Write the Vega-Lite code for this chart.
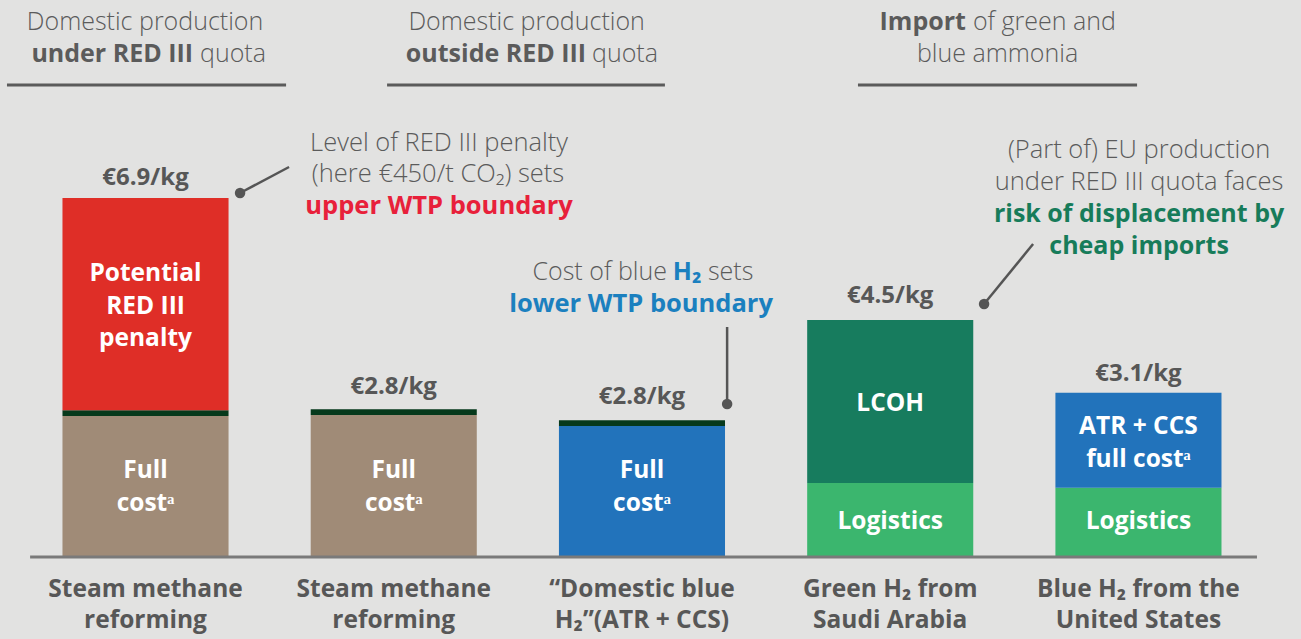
{
  "$schema": "https://vega.github.io/schema/vega-lite/v6.json",
  "width": 1301,
  "height": 639,
  "autosize": {"type": "fit", "contains": "padding"},
  "padding": 0,
  "background": "#e2e2e1",
  "config": {"view": {"stroke": null}, "text": {"font": "Open Sans"}},
  "resolve": {"scale": {"x": "independent", "color": "independent"}},
  "layer": [
    {
      "layer": [
        {
          "data": {"values": [
            {"bar": "SMR under quota", "part": "SMR full cost", "order": 1, "value": 2.67},
            {"bar": "SMR under quota", "part": "Residual CO₂ cost", "order": 2, "value": 0.11},
            {"bar": "SMR under quota", "part": "RED III penalty", "order": 3, "value": 4.02},
            {"bar": "SMR outside quota", "part": "SMR full cost", "order": 1, "value": 2.69},
            {"bar": "SMR outside quota", "part": "Residual CO₂ cost", "order": 2, "value": 0.11},
            {"bar": "Domestic blue H₂", "part": "ATR + CCS full cost", "order": 1, "value": 2.48},
            {"bar": "Domestic blue H₂", "part": "Residual CO₂ cost", "order": 2, "value": 0.11},
            {"bar": "Green H₂ Saudi Arabia", "part": "Logistics", "order": 1, "value": 1.40},
            {"bar": "Green H₂ Saudi Arabia", "part": "LCOH", "order": 2, "value": 3.09},
            {"bar": "Blue H₂ United States", "part": "Logistics", "order": 1, "value": 1.31},
            {"bar": "Blue H₂ United States", "part": "ATR + CCS full cost", "order": 2, "value": 1.80}
          ]},
          "mark": {"type": "bar"},
          "encoding": {
            "x": {"field": "bar", "type": "nominal", "axis": null,
              "scale": {"domain": ["SMR under quota", "SMR outside quota", "Domestic blue H₂", "Green H₂ Saudi Arabia", "Blue H₂ United States"], "paddingInner": 0.331, "paddingOuter": 0.286, "align": 0.44}},
            "y": {"field": "value", "type": "quantitative", "stack": "zero", "axis": null,
              "scale": {"domain": [-1.553, 10.549], "nice": false, "zero": false}},
            "color": {"field": "part", "type": "nominal", "legend": null,
              "scale": {"domain": ["SMR full cost", "Residual CO₂ cost", "RED III penalty", "ATR + CCS full cost", "Logistics", "LCOH"],
                "range": ["#a08b77", "#06391b", "#df2e27", "#2273bb", "#3bb66e", "#177c5e"]}},
            "order": {"field": "order", "type": "quantitative"}
          }
        },
        {
          "data": {"values": [
            {"bar": "SMR under quota", "y": 7.18, "text": "€6.9/kg"},
            {"bar": "SMR outside quota", "y": 3.22, "text": "€2.8/kg"},
            {"bar": "Domestic blue H₂", "y": 3.03, "text": "€2.8/kg"},
            {"bar": "Green H₂ Saudi Arabia", "y": 4.94, "text": "€4.5/kg"},
            {"bar": "Blue H₂ United States", "y": 3.47, "text": "€3.1/kg"}
          ]},
          "mark": {"type": "text", "fontSize": 24, "fontWeight": "bold", "color": "#575757", "align": "center", "baseline": "middle"},
          "encoding": {
            "x": {"field": "bar", "type": "nominal", "axis": null,
              "scale": {"domain": ["SMR under quota", "SMR outside quota", "Domestic blue H₂", "Green H₂ Saudi Arabia", "Blue H₂ United States"], "paddingInner": 0.331, "paddingOuter": 0.286, "align": 0.44}},
            "y": {"field": "y", "type": "quantitative", "axis": null,
              "scale": {"domain": [-1.553, 10.549], "nice": false, "zero": false}},
            "text": {"field": "text"}
          }
        },
        {
          "data": {"values": [
            {"bar": "SMR under quota", "y": -0.625, "text": "Steam methane"},
            {"bar": "SMR under quota", "y": -1.212, "text": "reforming"},
            {"bar": "SMR outside quota", "y": -0.625, "text": "Steam methane"},
            {"bar": "SMR outside quota", "y": -1.212, "text": "reforming"},
            {"bar": "Domestic blue H₂", "y": -0.625, "text": "“Domestic blue"},
            {"bar": "Domestic blue H₂", "y": -1.212, "text": "H₂”(ATR + CCS)"},
            {"bar": "Green H₂ Saudi Arabia", "y": -0.625, "text": "Green H₂ from"},
            {"bar": "Green H₂ Saudi Arabia", "y": -1.212, "text": "Saudi Arabia"},
            {"bar": "Blue H₂ United States", "y": -0.625, "text": "Blue H₂ from the"},
            {"bar": "Blue H₂ United States", "y": -1.212, "text": "United States"}
          ]},
          "mark": {"type": "text", "fontSize": 24.5, "fontWeight": "bold", "color": "#575757", "align": "center", "baseline": "middle"},
          "encoding": {
            "x": {"field": "bar", "type": "nominal", "axis": null,
              "scale": {"domain": ["SMR under quota", "SMR outside quota", "Domestic blue H₂", "Green H₂ Saudi Arabia", "Blue H₂ United States"], "paddingInner": 0.331, "paddingOuter": 0.286, "align": 0.44}},
            "y": {"field": "y", "type": "quantitative", "axis": null,
              "scale": {"domain": [-1.553, 10.549], "nice": false, "zero": false}},
            "text": {"field": "text"}
          }
        },
        {
          "data": {"values": [
            {"bar": "SMR under quota", "y": 5.36, "text": "Potential"},
            {"bar": "SMR under quota", "y": 4.73, "text": "RED III"},
            {"bar": "SMR under quota", "y": 4.13, "text": "penalty"},
            {"bar": "SMR under quota", "y": 1.63, "text": "Full"},
            {"bar": "SMR under quota", "y": 1.00, "text": "costᵃ"},
            {"bar": "SMR outside quota", "y": 1.63, "text": "Full"},
            {"bar": "SMR outside quota", "y": 1.00, "text": "costᵃ"},
            {"bar": "Domestic blue H₂", "y": 1.63, "text": "Full"},
            {"bar": "Domestic blue H₂", "y": 1.00, "text": "costᵃ"},
            {"bar": "Green H₂ Saudi Arabia", "y": 2.90, "text": "LCOH"},
            {"bar": "Green H₂ Saudi Arabia", "y": 0.66, "text": "Logistics"},
            {"bar": "Blue H₂ United States", "y": 2.46, "text": "ATR + CCS"},
            {"bar": "Blue H₂ United States", "y": 1.84, "text": "full costᵃ"},
            {"bar": "Blue H₂ United States", "y": 0.66, "text": "Logistics"}
          ]},
          "mark": {"type": "text", "fontSize": 24.5, "fontWeight": "bold", "color": "#ffffff", "align": "center", "baseline": "middle"},
          "encoding": {
            "x": {"field": "bar", "type": "nominal", "axis": null,
              "scale": {"domain": ["SMR under quota", "SMR outside quota", "Domestic blue H₂", "Green H₂ Saudi Arabia", "Blue H₂ United States"], "paddingInner": 0.331, "paddingOuter": 0.286, "align": 0.44}},
            "y": {"field": "y", "type": "quantitative", "axis": null,
              "scale": {"domain": [-1.553, 10.549], "nice": false, "zero": false}},
            "text": {"field": "text"}
          }
        }
      ]
    },
    {
      "layer": [
        {
          "data": {"values": [
            {"x": 0.448, "x2": 1.570, "y": 8.939},
            {"x": 1.976, "x2": 3.093, "y": 8.939},
            {"x": 3.869, "x2": 4.991, "y": 8.939}
          ]},
          "mark": {"type": "rule", "color": "#5b5b5b", "strokeWidth": 3},
          "encoding": {
            "x": {"field": "x", "type": "quantitative", "axis": null, "scale": {"domain": [0.42, 5.65], "nice": false, "zero": false}},
            "x2": {"field": "x2"},
            "y": {"field": "y", "type": "quantitative", "axis": null, "scale": {"domain": [-1.553, 10.549], "nice": false, "zero": false}}
          }
        },
        {
          "data": {"values": [{"x": 0.541, "x2": 5.473, "y": 0}]},
          "mark": {"type": "rule", "color": "#7a7a7a", "strokeWidth": 3},
          "encoding": {
            "x": {"field": "x", "type": "quantitative", "axis": null, "scale": {"domain": [0.42, 5.65], "nice": false, "zero": false}},
            "x2": {"field": "x2"},
            "y": {"field": "y", "type": "quantitative", "axis": null, "scale": {"domain": [-1.553, 10.549], "nice": false, "zero": false}}
          }
        },
        {
          "data": {"values": [
            {"x": 1.385, "y": 6.894, "x2": 1.582, "y2": 7.386},
            {"x": 3.343, "y": 2.898, "x2": 3.343, "y2": 4.356},
            {"x": 4.376, "y": 4.792, "x2": 4.573, "y2": 5.928}
          ]},
          "mark": {"type": "rule", "color": "#555555", "strokeWidth": 2.5},
          "encoding": {
            "x": {"field": "x", "type": "quantitative", "axis": null, "scale": {"domain": [0.42, 5.65], "nice": false, "zero": false}},
            "x2": {"field": "x2"},
            "y": {"field": "y", "type": "quantitative", "axis": null, "scale": {"domain": [-1.553, 10.549], "nice": false, "zero": false}},
            "y2": {"field": "y2"}
          }
        },
        {
          "data": {"values": [
            {"x": 1.385, "y": 6.894},
            {"x": 3.343, "y": 2.898},
            {"x": 4.376, "y": 4.792}
          ]},
          "mark": {"type": "point", "filled": true, "color": "#555555", "size": 110, "opacity": 1},
          "encoding": {
            "x": {"field": "x", "type": "quantitative", "axis": null, "scale": {"domain": [0.42, 5.65], "nice": false, "zero": false}},
            "y": {"field": "y", "type": "quantitative", "axis": null, "scale": {"domain": [-1.553, 10.549], "nice": false, "zero": false}}
          }
        },
        {
          "data": {"values": [
            {"x": 1.003, "y": 10.133, "text": "Domestic production"},
            {"x": 2.537, "y": 10.133, "text": "Domestic production"},
            {"x": 4.430, "y": 9.527, "text": "blue ammonia"}
          ]},
          "mark": {"type": "text", "fontSize": 25, "fontWeight": 300, "color": "#5b5b5b", "align": "center", "baseline": "middle"},
          "encoding": {
            "x": {"field": "x", "type": "quantitative", "axis": null, "scale": {"domain": [0.42, 5.65], "nice": false, "zero": false}},
            "y": {"field": "y", "type": "quantitative", "axis": null, "scale": {"domain": [-1.553, 10.549], "nice": false, "zero": false}},
            "text": {"field": "text"}
          }
        },
        {
          "data": {"values": [
            {"x": 1.196, "y": 9.527, "text": "under RED III"},
            {"x": 2.776, "y": 9.527, "text": "outside RED III"},
            {"x": 4.303, "y": 10.133, "text": "Import"}
          ]},
          "mark": {"type": "text", "fontSize": 25, "fontWeight": "bold", "color": "#5b5b5b", "align": "right", "baseline": "middle"},
          "encoding": {
            "x": {"field": "x", "type": "quantitative", "axis": null, "scale": {"domain": [0.42, 5.65], "nice": false, "zero": false}},
            "y": {"field": "y", "type": "quantitative", "axis": null, "scale": {"domain": [-1.553, 10.549], "nice": false, "zero": false}},
            "text": {"field": "text"}
          }
        },
        {
          "data": {"values": [
            {"x": 1.224, "y": 9.527, "text": "quota"},
            {"x": 2.800, "y": 9.527, "text": "quota"},
            {"x": 4.331, "y": 10.133, "text": "of green and"}
          ]},
          "mark": {"type": "text", "fontSize": 25, "fontWeight": 300, "color": "#5b5b5b", "align": "left", "baseline": "middle"},
          "encoding": {
            "x": {"field": "x", "type": "quantitative", "axis": null, "scale": {"domain": [0.42, 5.65], "nice": false, "zero": false}},
            "y": {"field": "y", "type": "quantitative", "axis": null, "scale": {"domain": [-1.553, 10.549], "nice": false, "zero": false}},
            "text": {"field": "text"}
          }
        },
        {
          "data": {"values": [
            {"x": 2.185, "y": 7.84, "text": "Level of RED III penalty"},
            {"x": 2.181, "y": 7.25, "text": "(here €450/t CO₂) sets"},
            {"x": 4.999, "y": 7.708, "text": "(Part of) EU production"},
            {"x": 4.999, "y": 7.102, "text": "under RED III quota faces"}
          ]},
          "mark": {"type": "text", "fontSize": 25.5, "fontWeight": 300, "color": "#5b5b5b", "align": "center", "baseline": "middle"},
          "encoding": {
            "x": {"field": "x", "type": "quantitative", "axis": null, "scale": {"domain": [0.42, 5.65], "nice": false, "zero": false}},
            "y": {"field": "y", "type": "quantitative", "axis": null, "scale": {"domain": [-1.553, 10.549], "nice": false, "zero": false}},
            "text": {"field": "text"}
          }
        },
        {
          "data": {"values": [{"x": 3.101, "y": 5.40, "text": "Cost of blue"}]},
          "mark": {"type": "text", "fontSize": 25, "fontWeight": 300, "color": "#5b5b5b", "align": "right", "baseline": "middle"},
          "encoding": {
            "x": {"field": "x", "type": "quantitative", "axis": null, "scale": {"domain": [0.42, 5.65], "nice": false, "zero": false}},
            "y": {"field": "y", "type": "quantitative", "axis": null, "scale": {"domain": [-1.553, 10.549], "nice": false, "zero": false}},
            "text": {"field": "text"}
          }
        },
        {
          "data": {"values": [{"x": 3.266, "y": 5.40, "text": "sets"}]},
          "mark": {"type": "text", "fontSize": 25, "fontWeight": 300, "color": "#5b5b5b", "align": "left", "baseline": "middle"},
          "encoding": {
            "x": {"field": "x", "type": "quantitative", "axis": null, "scale": {"domain": [0.42, 5.65], "nice": false, "zero": false}},
            "y": {"field": "y", "type": "quantitative", "axis": null, "scale": {"domain": [-1.553, 10.549], "nice": false, "zero": false}},
            "text": {"field": "text"}
          }
        },
        {
          "data": {"values": [{"x": 2.185, "y": 6.65, "text": "upper WTP boundary"}]},
          "mark": {"type": "text", "fontSize": 25.5, "fontWeight": "bold", "color": "#e8203a", "align": "center", "baseline": "middle"},
          "encoding": {
            "x": {"field": "x", "type": "quantitative", "axis": null, "scale": {"domain": [0.42, 5.65], "nice": false, "zero": false}},
            "y": {"field": "y", "type": "quantitative", "axis": null, "scale": {"domain": [-1.553, 10.549], "nice": false, "zero": false}},
            "text": {"field": "text"}
          }
        },
        {
          "data": {"values": [{"x": 3.182, "y": 5.40, "text": "H₂"}]},
          "mark": {"type": "text", "fontSize": 25, "fontWeight": "bold", "color": "#1b80bf", "align": "center", "baseline": "middle"},
          "encoding": {
            "x": {"field": "x", "type": "quantitative", "axis": null, "scale": {"domain": [0.42, 5.65], "nice": false, "zero": false}},
            "y": {"field": "y", "type": "quantitative", "axis": null, "scale": {"domain": [-1.553, 10.549], "nice": false, "zero": false}},
            "text": {"field": "text"}
          }
        },
        {
          "data": {"values": [{"x": 2.997, "y": 4.79, "text": "lower WTP boundary"}]},
          "mark": {"type": "text", "fontSize": 25.5, "fontWeight": "bold", "color": "#1b80bf", "align": "center", "baseline": "middle"},
          "encoding": {
            "x": {"field": "x", "type": "quantitative", "axis": null, "scale": {"domain": [0.42, 5.65], "nice": false, "zero": false}},
            "y": {"field": "y", "type": "quantitative", "axis": null, "scale": {"domain": [-1.553, 10.549], "nice": false, "zero": false}},
            "text": {"field": "text"}
          }
        },
        {
          "data": {"values": [
            {"x": 4.999, "y": 6.50, "text": "risk of displacement by"},
            {"x": 4.999, "y": 5.89, "text": "cheap imports"}
          ]},
          "mark": {"type": "text", "fontSize": 25, "fontWeight": "bold", "color": "#177c5a", "align": "center", "baseline": "middle"},
          "encoding": {
            "x": {"field": "x", "type": "quantitative", "axis": null, "scale": {"domain": [0.42, 5.65], "nice": false, "zero": false}},
            "y": {"field": "y", "type": "quantitative", "axis": null, "scale": {"domain": [-1.553, 10.549], "nice": false, "zero": false}},
            "text": {"field": "text"}
          }
        }
      ]
    }
  ]
}
